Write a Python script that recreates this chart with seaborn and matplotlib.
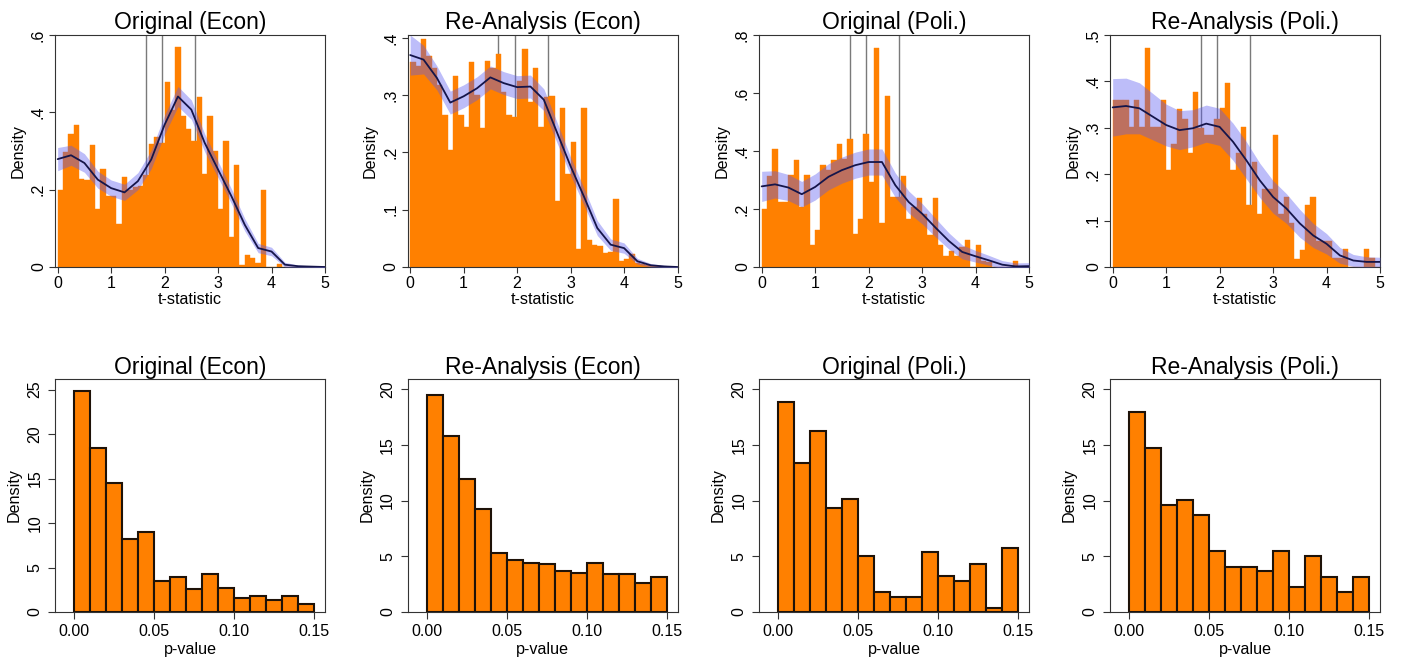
import numpy as np
import matplotlib
matplotlib.use("Agg")
import matplotlib.pyplot as plt
import seaborn as sns

sns.set_theme(style="ticks")
plt.rcParams['font.family'] = ['Liberation Sans', 'DejaVu Sans']
plt.rcParams['text.color'] = 'black'
plt.rcParams['axes.labelcolor'] = 'black'
plt.rcParams['xtick.color'] = 'black'
plt.rcParams['ytick.color'] = 'black'

# ---------------- data ----------------
titles = ["Original (Econ)", "Re-Analysis (Econ)", "Original (Poli.)", "Re-Analysis (Poli.)"]

# t-statistic histograms: density per bin of width 0.1 on [0, 5]
t_bin_edges = [round(0.1 * i, 1) for i in range(51)]
t_hist_orig_econ = [0.200, 0.297, 0.345, 0.367, 0.228, 0.226, 0.316, 0.150, 0.254, 0.183,
                    0.183, 0.110, 0.233, 0.200, 0.206, 0.210, 0.238, 0.319, 0.335, 0.320,
                    0.478, 0.405, 0.568, 0.390, 0.357, 0.327, 0.440, 0.241, 0.390, 0.300,
                    0.151, 0.327, 0.077, 0.263, 0.004, 0.032, 0.023, 0.010, 0.200, 0.000,
                    0.000, 0.009, 0.000, 0.000, 0.000, 0.000, 0.000, 0.000, 0.000, 0.000]
t_hist_re_econ = [0.358, 0.351, 0.398, 0.369, 0.348, 0.317, 0.266, 0.205, 0.334, 0.265,
                  0.245, 0.357, 0.300, 0.242, 0.360, 0.348, 0.371, 0.305, 0.265, 0.262,
                  0.325, 0.381, 0.288, 0.347, 0.245, 0.297, 0.299, 0.116, 0.278, 0.162,
                  0.218, 0.031, 0.277, 0.048, 0.038, 0.036, 0.025, 0.026, 0.119, 0.011,
                  0.014, 0.022, 0.007, 0.005, 0.003, 0.002, 0.001, 0.000, 0.000, 0.000]
t_hist_orig_poli = [0.201, 0.313, 0.408, 0.224, 0.224, 0.316, 0.368, 0.207, 0.316, 0.075,
                    0.129, 0.351, 0.334, 0.368, 0.423, 0.374, 0.443, 0.113, 0.167, 0.460,
                    0.293, 0.754, 0.150, 0.589, 0.242, 0.242, 0.314, 0.167, 0.207, 0.239,
                    0.184, 0.109, 0.239, 0.077, 0.037, 0.055, 0.037, 0.069, 0.092, 0.000,
                    0.075, 0.021, 0.017, 0.000, 0.000, 0.000, 0.000, 0.020, 0.000, 0.000]
t_hist_re_poli = [0.360, 0.360, 0.360, 0.302, 0.360, 0.302, 0.473, 0.302, 0.302, 0.360,
                  0.209, 0.265, 0.340, 0.320, 0.246, 0.378, 0.299, 0.284, 0.284, 0.320,
                  0.342, 0.397, 0.209, 0.245, 0.302, 0.133, 0.227, 0.115, 0.169, 0.169,
                  0.284, 0.115, 0.151, 0.094, 0.018, 0.036, 0.133, 0.151, 0.057, 0.057,
                  0.057, 0.020, 0.020, 0.038, 0.000, 0.000, 0.000, 0.038, 0.020, 0.000]

# kernel density estimate and half-width of its band
kde_t = [0.0, 0.25, 0.5, 0.75, 1.0, 1.25, 1.5, 1.75, 2.0, 2.25, 2.5,
         2.75, 3.0, 3.25, 3.5, 3.75, 4.0, 4.25, 4.5, 4.75, 5.0]
kde_orig_econ = [0.279, 0.289, 0.269, 0.226, 0.204, 0.193, 0.222, 0.278, 0.368, 0.441, 0.407,
                 0.321, 0.252, 0.183, 0.109, 0.049, 0.040, 0.006, 0.002, 0.001, 0.000]
band_orig_econ = [0.030, 0.026, 0.024, 0.022, 0.021, 0.021, 0.022, 0.024, 0.025, 0.026, 0.025,
                  0.023, 0.021, 0.019, 0.016, 0.012, 0.011, 0.006, 0.003, 0.002, 0.002]
kde_re_econ = [0.370, 0.362, 0.330, 0.287, 0.298, 0.312, 0.331, 0.321, 0.314, 0.315, 0.292,
               0.234, 0.176, 0.123, 0.068, 0.039, 0.033, 0.010, 0.003, 0.001, 0.000]
band_re_econ = [0.035, 0.025, 0.021, 0.020, 0.020, 0.020, 0.020, 0.020, 0.020, 0.020, 0.019,
                0.018, 0.016, 0.015, 0.013, 0.010, 0.009, 0.005, 0.003, 0.002, 0.001]
kde_orig_poli = [0.278, 0.285, 0.274, 0.251, 0.276, 0.311, 0.334, 0.351, 0.362, 0.362, 0.282,
                 0.224, 0.184, 0.136, 0.090, 0.052, 0.037, 0.023, 0.008, 0.002, 0.003]
band_orig_poli = [0.052, 0.047, 0.045, 0.044, 0.045, 0.045, 0.045, 0.045, 0.045, 0.045, 0.042,
                  0.038, 0.035, 0.032, 0.028, 0.024, 0.020, 0.017, 0.014, 0.012, 0.012]
kde_re_poli = [0.344, 0.347, 0.342, 0.324, 0.306, 0.295, 0.299, 0.309, 0.302, 0.270, 0.230,
               0.187, 0.151, 0.126, 0.094, 0.068, 0.050, 0.025, 0.014, 0.011, 0.011]
band_re_poli = [0.062, 0.060, 0.055, 0.050, 0.045, 0.042, 0.040, 0.040, 0.040, 0.040, 0.040,
                0.037, 0.035, 0.032, 0.030, 0.026, 0.022, 0.017, 0.013, 0.011, 0.010]

critical_t = [1.645, 1.96, 2.576]

# p-value histograms: density per bin of width 0.01 on [0, 0.15]
p_bin_edges = [round(0.01 * i, 2) for i in range(16)]
p_hist_orig_econ = [24.85, 18.4, 14.56, 8.18, 9.0, 3.49, 3.98, 2.59, 4.24, 2.66, 1.54, 1.8, 1.39, 1.8, 0.94]
p_hist_re_econ = [19.49, 15.77, 11.9, 9.24, 5.31, 4.62, 4.41, 4.32, 3.72, 3.51, 4.38, 3.39, 3.39, 2.58, 3.18]
p_hist_orig_poli = [18.8, 13.34, 16.25, 9.36, 10.1, 5.0, 1.77, 1.38, 1.38, 5.37, 3.21, 2.82, 4.29, 0.33, 5.76]
p_hist_re_poli = [17.93, 14.72, 9.63, 10.07, 8.7, 5.49, 4.08, 4.08, 3.66, 5.49, 2.28, 5.04, 3.18, 1.8, 3.18]

t_xticks = [0, 1, 2, 3, 4, 5]
t_yticks = [[0, 0.2, 0.4, 0.6], [0, 0.1, 0.2, 0.3, 0.4], [0, 0.2, 0.4, 0.6, 0.8], [0, 0.1, 0.2, 0.3, 0.4, 0.5]]
t_ytick_labels = [["0", ".2", ".4", ".6"], ["0", ".1", ".2", ".3", ".4"],
                  ["0", ".2", ".4", ".6", ".8"], ["0", ".1", ".2", ".3", ".4", ".5"]]
t_ytop = [0.6, 0.405, 0.8, 0.5]

p_xticks = [0.0, 0.05, 0.10, 0.15]
p_xtick_labels = ["0.00", "0.05", "0.10", "0.15"]
p_yticks = [[0, 5, 10, 15, 20, 25], [0, 5, 10, 15, 20], [0, 5, 10, 15, 20], [0, 5, 10, 15, 20]]
p_ytop = [26.2, 20.9, 20.9, 20.9]

t_hists = [t_hist_orig_econ, t_hist_re_econ, t_hist_orig_poli, t_hist_re_poli]
kdes = [kde_orig_econ, kde_re_econ, kde_orig_poli, kde_re_poli]
bands = [band_orig_econ, band_re_econ, band_orig_poli, band_re_poli]
p_hists = [p_hist_orig_econ, p_hist_re_econ, p_hist_orig_poli, p_hist_re_poli]

# ---------------- style ----------------
ORANGE = "#FF8000"
BAND = (90 / 255, 90 / 255, 240 / 255)
LINE = "#15154a"
FS_TITLE = 16.5
FS_LAB = 11.6
FS_TICK = 11.5

W, H = 1403, 662
fig = plt.figure(figsize=(W / 100, H / 100), dpi=100)
col_left = [55, 407.5, 759, 1110]
ax_w = 270


def add_ax(left_px, top_px, w_px, h_px):
    return fig.add_axes([left_px / W, 1 - (top_px + h_px) / H, w_px / W, h_px / H])


def style_axes(ax):
    for sp in ax.spines.values():
        sp.set_color("#333333")
        sp.set_linewidth(0.8)
    ax.tick_params(axis="both", direction="out", length=4, width=0.8, color="#333333",
                   labelcolor="black", labelsize=FS_TICK, pad=2.5,
                   bottom=True, left=True, top=False, right=False)


for i in range(4):
    # ---- top row: t-statistics ----
    ax = add_ax(col_left[i], 35, ax_w, 232)
    centers = [(t_bin_edges[k] + t_bin_edges[k + 1]) / 2 for k in range(50)]
    ax.vlines(critical_t, 0, t_ytop[i], colors="#7a7a7a", linewidth=1.0, zorder=1)
    sns.histplot(x=centers, weights=t_hists[i], bins=t_bin_edges, stat="count",
                 color=ORANGE, alpha=1, edgecolor=ORANGE, linewidth=0.3, ax=ax, zorder=2)
    lo = [k - b for k, b in zip(kdes[i], bands[i])]
    hi = [k + b for k, b in zip(kdes[i], bands[i])]
    ax.fill_between(kde_t, lo, hi, color=BAND, alpha=0.4, linewidth=0, zorder=3)
    sns.lineplot(x=kde_t, y=kdes[i], color=LINE, linewidth=1.3, ax=ax, zorder=4)
    ax.set_xlim(-0.05, 5.0)
    ax.set_ylim(0, t_ytop[i])
    ax.set_xticks(t_xticks)
    ax.set_yticks(t_yticks[i], t_ytick_labels[i], rotation=90, va="center")
    ax.set_xlabel("t-statistic", fontsize=FS_LAB, labelpad=1)
    ax.set_ylabel("Density", fontsize=FS_LAB, labelpad=4)
    ax.set_title(titles[i], fontsize=FS_TITLE, pad=4, color="black")
    style_axes(ax)

    # ---- bottom row: p-values ----
    ax2 = add_ax(col_left[i], 379, ax_w, 233)
    p_centers = [(p_bin_edges[k] + p_bin_edges[k + 1]) / 2 for k in range(15)]
    sns.histplot(x=p_centers, weights=p_hists[i], bins=p_bin_edges, stat="count",
                 color=ORANGE, alpha=1, edgecolor="#1e1208", linewidth=1.5, ax=ax2)
    ax2.set_xlim(-0.0119, 0.1567)
    ax2.set_ylim(0, p_ytop[i])
    ax2.set_xticks(p_xticks, p_xtick_labels)
    ax2.set_yticks(p_yticks[i], [str(v) for v in p_yticks[i]], rotation=90, va="center")
    ax2.set_xlabel("p-value", fontsize=FS_LAB, labelpad=2)
    ax2.set_ylabel("Density", fontsize=FS_LAB, labelpad=4)
    ax2.set_title(titles[i], fontsize=FS_TITLE, pad=3, color="black")
    style_axes(ax2)
    ax2.tick_params(length=5, pad=4)

fig.savefig("out.png", dpi=100)
